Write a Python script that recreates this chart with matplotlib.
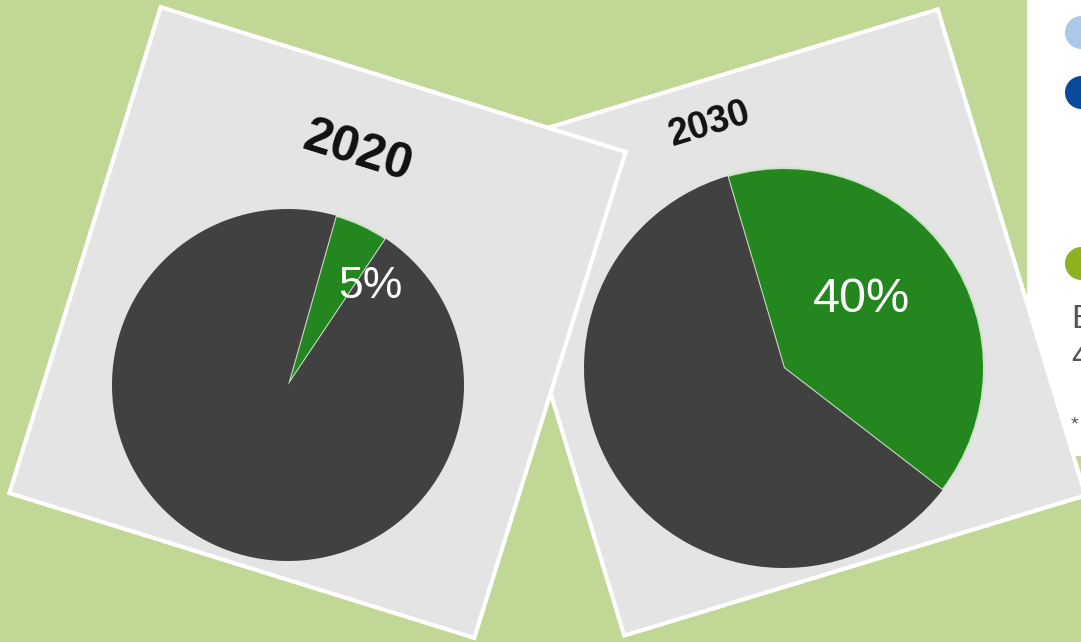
import numpy as np
import matplotlib.pyplot as plt
from matplotlib.patches import Rectangle

# share of green vs rest, per year
years = ['2020', '2030']
green_share = [5, 40]
pct_labels = ['5%', '40%']
slice_colors = ['#23861f', '#414141']

# legend strip on the right (only markers and first letters visible)
legend_colors = ['#a9c8ea', '#0b4a9a', '#8db21f']
legend_text = ['E', '4', '*']

bg_green = '#c0d796'
panel_grey = '#e4e4e4'

fig = plt.figure(figsize=(10.81, 6.42), dpi=100)
fig.patch.set_facecolor(bg_green)
ax = fig.add_axes([0, 0, 1, 1])
ax.set_facecolor(bg_green)

# panel layout: center, size, tilt (screen clockwise, degrees)
panels = [
    dict(center=(317.5, 322.5), size=(487, 509), tilt=17.3,
         pie_center=(288, 385), radius=176, start=-1.5,
         title_pos=(357, 152), title_size=36, label_pos=(370, 287), label_size=32),
    dict(center=(781, 322.5), size=(482, 508), tilt=-16.9,
         pie_center=(784, 368), radius=200, start=0.5,
         title_pos=(710, 124), title_size=27, label_pos=(862, 300), label_size=35),
]

#-------------------- legend panel (behind the charts) -------------------#
ax.add_patch(Rectangle((1027, -10), 80, 466, facecolor='white', edgecolor='none', zorder=1))
legend_y = [32, 92, 263]
for c, y in zip(legend_colors, legend_y):
    ax.scatter([1081], [y], s=520, color=c, zorder=1.5, clip_on=True)
text_y = [320, 358, 425]
text_size = [24, 24, 14]
for t, y, fs in zip(legend_text, text_y, text_size):
    ax.text(1071, y, t, fontsize=fs, color='#555555', va='center', ha='left',
            family='Liberation Sans', zorder=1.5)

#-------------------- the two tilted pie panels -------------------#
# right panel first, left panel lies on top of it
for i in [1, 0]:
    p = panels[i]
    z = 2 + (1 - i) * 3
    w, h = p['size']
    cx, cy = p['center']
    ax.add_patch(Rectangle((cx - w / 2, cy - h / 2), w, h, angle=p['tilt'],
                           rotation_point='center', facecolor=panel_grey,
                           edgecolor='white', linewidth=3, zorder=z))
    # y axis is inverted, so counterclockwise in data = clockwise on screen
    # and screen "up" is data angle 270
    wedges, _ = ax.pie([green_share[i], 100 - green_share[i]], colors=slice_colors,
                       center=p['pie_center'], radius=p['radius'],
                       startangle=270 + p['tilt'] + p['start'], counterclock=True,
                       frame=True, wedgeprops=dict(linewidth=0))
    for wd in wedges:
        wd.set_zorder(z + 0.5)
    wedges[0].set_edgecolor('#cfe3c8')
    wedges[0].set_linewidth(1.5)
    ax.text(*p['label_pos'], pct_labels[i], color='white', fontsize=p['label_size'],
            ha='center', va='center', family='Liberation Sans', zorder=z + 1)
    ax.text(*p['title_pos'], years[i], color='#111111', fontsize=p['title_size'],
            fontweight='bold', rotation=-p['tilt'], rotation_mode='anchor',
            ha='center', va='center', family='Liberation Sans', zorder=z + 1)

ax.set_xlim(0, 1081)
ax.set_ylim(642, 0)
ax.set_aspect('auto')
ax.axis('off')

fig.savefig('out.png', dpi=100, facecolor=bg_green)
